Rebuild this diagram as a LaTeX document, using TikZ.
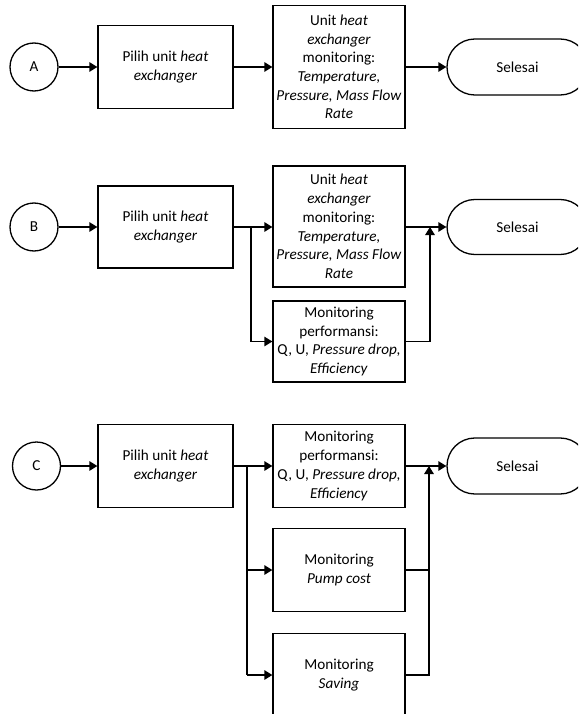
\documentclass[tikz,border=0pt]{standalone}
\usepackage{fontspec}
\setmainfont{Carlito}
\usetikzlibrary{arrows.meta}
\begin{document}
\begin{tikzpicture}[x=1pt,y=-1pt,
  every node/.style={font=\fontsize{15.2}{18.7}\selectfont, align=center, inner sep=0pt},
  startnode/.style={draw, circle, minimum size=48pt, line width=1.3pt},
  procbox/.style={draw, rectangle, minimum width=135pt, minimum height=83pt, line width=1.3pt},
  monbox/.style={draw, rectangle, minimum width=132pt, minimum height=83pt, line width=1.3pt},
  endnode/.style={draw, rectangle, rounded corners=27.9pt, minimum width=141pt, minimum height=56pt, line width=1.3pt},
  arr/.style={line width=1.3pt, -{Triangle[length=8pt,width=9.5pt]}},
  ln/.style={line width=1.3pt}]
\useasboundingbox (0,0) rectangle (578,714);
\clip (0,0) rectangle (578,714);

% ---------- A ----------
\node[startnode] (cA) at (34,67) {A};
\node[procbox] (pA) at (165.5,67) {Pilih unit \textit{heat}\\\textit{exchanger}};
\node[monbox, minimum height=123pt] (uA) at (339,67) {Unit \textit{heat}\\\textit{exchanger}\\monitoring:\\\textit{Temperature,}\\\textit{Pressure, Mass Flow}\\\textit{Rate}};
\node[endnode] (sA) at (517.5,67) {Selesai};
\draw[arr] (cA) -- (pA);
\draw[arr] (pA) -- (uA);
\draw[arr] (uA) -- (sA);

% ---------- B ----------
\node[startnode] (cB) at (34,227) {B};
\node[procbox, minimum height=82pt] (pB) at (165.5,227) {Pilih unit \textit{heat}\\\textit{exchanger}};
\node[monbox, minimum height=121pt] (uB) at (339,226.5) {Unit \textit{heat}\\\textit{exchanger}\\monitoring:\\\textit{Temperature,}\\\textit{Pressure, Mass Flow}\\\textit{Rate}};
\node[monbox, minimum height=81pt] (fB) at (339,341.5) {Monitoring\\performansi:\\Q, U, \textit{Pressure drop,}\\\textit{Efficiency}};
\node[endnode, minimum height=55pt] (sB) at (517.5,227) {Selesai};
\coordinate (jB) at (251,227);
\coordinate (mB) at (430,227);
\draw[arr] (cB) -- (pB);
\draw[arr] (pB.east) -- (pB.east -| uB.west);
\draw[arr] (jB) |- (fB.west);
\draw[arr] (uB.east |- mB) -- (sB);
\draw[arr] (fB.east) -| (mB);

% ---------- C ----------
\node[startnode] (cC) at (36.5,466) {C};
\node[procbox] (pC) at (165.5,466) {Pilih unit \textit{heat}\\\textit{exchanger}};
\node[monbox] (fC) at (339,466) {Monitoring\\performansi:\\Q, U, \textit{Pressure drop,}\\\textit{Efficiency}};
\node[monbox] (qC) at (339,570) {Monitoring\\\textit{Pump cost}};
\node[monbox] (vC) at (339,675) {Monitoring\\\textit{Saving}};
\node[endnode] (sC) at (517.5,466) {Selesai};
\coordinate (jC) at (247,466);
\coordinate (mC) at (429,466);
\draw[arr] (cC) -- (pC);
\draw[arr] (pC) -- (fC);
\draw[ln] (jC) -- (jC |- vC.west);
\draw[arr] (jC |- qC.west) -- (qC.west);
\draw[arr] (jC |- vC.west) -- (vC.west);
\draw[arr] (fC) -- (sC);
\draw[ln] (qC.east) -- (qC.east -| mC);
\draw[arr] (vC.east) -| (mC);
\end{tikzpicture}
\end{document}
